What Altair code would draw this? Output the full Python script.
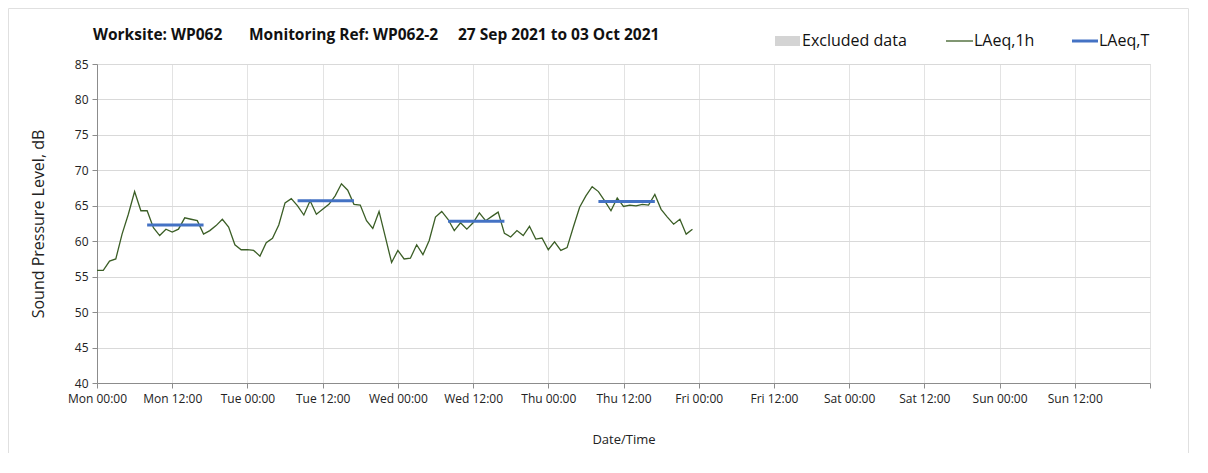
import altair as alt
import pandas as pd

# LAeq,1h hourly values from Mon 00:00 (hour 0) to Thu 23:00 (hour 95)
laeq_1h = [
    55.9, 55.9, 57.2, 57.5, 61.0, 63.8, 67.0, 64.3, 64.3, 61.9, 60.8, 61.7,
    61.3, 61.7, 63.3, 63.1, 62.9, 61.0, 61.5, 62.2, 63.1, 62.0, 59.5, 58.8,
    58.8, 58.7, 57.9, 59.8, 60.4, 62.3, 65.4, 66.0, 65.0, 63.7, 65.7, 63.8,
    64.5, 65.2, 66.4, 68.1, 67.2, 65.2, 65.1, 62.9, 61.8, 64.2, 60.6, 57.0,
    58.7, 57.5, 57.6, 59.5, 58.1, 60.1, 63.4, 64.2, 63.1, 61.5, 62.6, 61.7,
    62.6, 64.0, 62.9, 63.5, 64.1, 61.1, 60.6, 61.5, 60.8, 62.1, 60.3, 60.45,
    58.8, 59.9, 58.7, 59.1, 62.0, 64.8, 66.4, 67.7, 67.0, 65.7, 64.3, 66.1,
    64.9, 65.1, 65.0, 65.2, 65.1, 66.6, 64.5, 63.4, 62.4, 63.1, 61.0, 61.7,
]
hours = list(range(len(laeq_1h)))

# LAeq,T daytime periods
period_start = [8, 32, 56, 80]
period_end = [17, 41, 65, 89]
laeq_t = [62.3, 65.7, 62.8, 65.6]

tick_hours = list(range(0, 169, 12))
y_ticks = list(range(40, 90, 5))
day_names = ["Mon", "Tue", "Wed", "Thu", "Fri", "Sat", "Sun"]

FONT = "Open Sans"
W, H = 1053, 319

line_df = pd.DataFrame({"hour": hours, "laeq": laeq_1h})
period_df = pd.DataFrame({"start": period_start, "end": period_end, "laeq": laeq_t})

label_expr = (
    "datum.value >= 168 ? '' : "
    "['Mon','Tue','Wed','Thu','Fri','Sat','Sun'][floor(datum.value/24)] + "
    "(datum.value % 24 == 0 ? ' 00:00' : ' 12:00')"
)

x_scale = alt.Scale(domain=[0, 168], nice=False, zero=False)
y_scale = alt.Scale(domain=[40, 85], nice=False, zero=False)

x_axis = alt.Axis(
    values=tick_hours, labelExpr=label_expr, title="Date/Time",
    grid=True, gridColor="#e3e3e3", domainColor="#8c8c8c", tickColor="#8c8c8c",
    tickSize=5, labelFontSize=12, labelColor="#222", labelPadding=5,
    labelOverlap=False, labelFlush=False,
    titleFontSize=13, titleFontWeight="normal", titleColor="#222", titleY=50,
    labelFont=FONT, titleFont=FONT,
)
y_axis = alt.Axis(
    values=y_ticks, title="Sound Pressure Level, dB", tickCount=10,
    grid=True, gridColor="#d9d9d9", domainColor="#8c8c8c", tickColor="#8c8c8c",
    tickSize=5, labelFontSize=12, labelColor="#222", labelPadding=4,
    labelOverlap=False, labelFlush=False,
    titleFontSize=16, titleFontWeight="normal", titleColor="#222", titleX=-51,
    labelFont=FONT, titleFont=FONT,
)

base_line = alt.Chart(line_df).mark_line(color="#3b5e26", strokeWidth=1.3).encode(
    x=alt.X("hour:Q", scale=x_scale, axis=x_axis),
    y=alt.Y("laeq:Q", scale=y_scale, axis=y_axis),
)

periods = alt.Chart(period_df).mark_rule(color="#4472c4", strokeWidth=3, strokeCap="butt").encode(
    x=alt.X("start:Q", scale=x_scale, axis=x_axis),
    x2="end:Q",
    y=alt.Y("laeq:Q", scale=y_scale, axis=y_axis),
)

one = alt.Data(values=[{"a": 1}])

def txt(s, x, y, size=14, weight="normal", align="left"):
    return alt.Chart(one).mark_text(
        text=s, fontSize=size, fontWeight=weight, font=FONT, align=align,
        baseline="middle", color="#111",
    ).encode(x=alt.value(x), y=alt.value(y))

title_layers = [
    txt("Worksite: WP062", -4, -29, 15.5, "bold"),
    txt("Monitoring Ref: WP062-2", 152, -29, 15.5, "bold"),
    txt("27 Sep 2021 to 03 Oct 2021", 361, -29, 15.5, "bold"),
]

legend_rect = alt.Chart(one).mark_rect(color="#d4d4d4").encode(
    x=alt.value(678), x2=alt.value(703), y=alt.value(-28), y2=alt.value(-18)
)
legend_green = alt.Chart(one).mark_rule(color="#3b5e26", strokeWidth=1.3).encode(
    x=alt.value(849), x2=alt.value(876), y=alt.value(-23)
)
legend_blue = alt.Chart(one).mark_rule(color="#4472c4", strokeWidth=3, strokeCap="butt").encode(
    x=alt.value(975), x2=alt.value(1001), y=alt.value(-23)
)
legend_texts = [
    txt("Excluded data", 705, -23, 16),
    txt("LAeq,1h", 877, -23, 16),
    txt("LAeq,T", 1002, -23, 16),
]

border = alt.Chart(one).mark_rect(fill=None, stroke="#e0e0e0", strokeWidth=1).encode(
    x=alt.value(-88.5), x2=alt.value(W + 38.5), y=alt.value(-55.5), y2=alt.value(H + 200)
)

chart = alt.layer(
    border, base_line, periods, *title_layers,
    legend_rect, legend_green, legend_blue, *legend_texts,
).properties(
    width=W, height=H,
    autosize=alt.AutoSizeParams(type="none"),
    padding={"left": 89, "top": 56, "right": 40, "bottom": 70},
).configure_view(
    stroke="#a6a6a6", strokeWidth=1
).configure(background="white")

chart.save("out.html", embed_options={"renderer": "svg", "actions": False})
